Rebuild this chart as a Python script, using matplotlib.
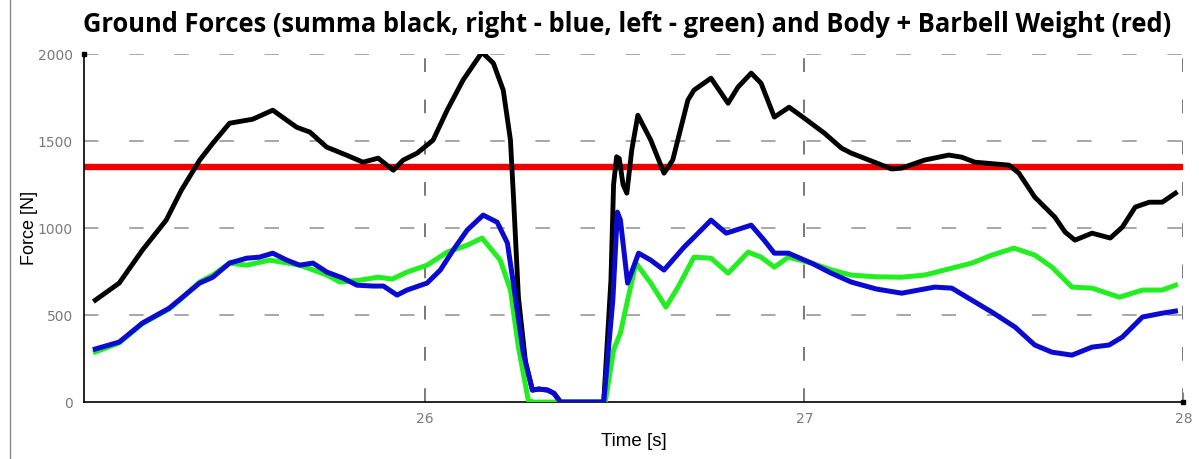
import matplotlib
matplotlib.use("Agg")
import matplotlib.pyplot as plt
from matplotlib.lines import Line2D

# time [s] and force [N] for each series
t_sum = [25.13, 25.193, 25.254, 25.317, 25.357, 25.405, 25.44, 25.484, 25.545, 25.598,
         25.661, 25.696, 25.74, 25.793, 25.836, 25.876, 25.916, 25.942, 25.979, 26.021,
         26.058, 26.1, 26.15, 26.18, 26.206, 26.225, 26.233, 26.246, 26.265, 26.283,
         26.3, 26.323, 26.34, 26.357, 26.471, 26.49, 26.497, 26.505, 26.512, 26.522,
         26.532, 26.545, 26.561, 26.595, 26.63, 26.653, 26.693, 26.709, 26.754, 26.799,
         26.825, 26.86, 26.886, 26.921, 26.96, 27.0, 27.053, 27.098, 27.124, 27.19,
         27.23, 27.257, 27.317, 27.381, 27.415, 27.45, 27.54, 27.566, 27.608, 27.661,
         27.688, 27.714, 27.759, 27.807, 27.839, 27.873, 27.91, 27.944, 27.979]
f_sum = [586, 684, 873, 1046, 1218, 1390, 1488, 1603, 1626, 1678,
         1580, 1552, 1466, 1419, 1379, 1402, 1333, 1391, 1431, 1506,
         1678, 1851, 2011, 1948, 1793, 1506, 1178, 603, 224, 69,
         75, 69, 50, 0, 0, 700, 1250, 1410, 1400, 1250,
         1201, 1450, 1649, 1506, 1316, 1391, 1736, 1793, 1862, 1718,
         1810, 1891, 1833, 1638, 1695, 1632, 1546, 1460, 1431, 1375,
         1340, 1345, 1391, 1420, 1408, 1379, 1362, 1316, 1178, 1063,
         977, 931, 971, 943, 1006, 1121, 1149, 1149, 1201]

t_right = [25.13, 25.193, 25.254, 25.325, 25.36, 25.405, 25.44, 25.484, 25.529, 25.563,
           25.598, 25.635, 25.669, 25.704, 25.741, 25.783, 25.82, 25.862, 25.89, 25.926,
           25.952, 26.005, 26.04, 26.074, 26.111, 26.153, 26.19, 26.217, 26.238, 26.259,
           26.283, 26.3, 26.323, 26.34, 26.357, 26.471, 26.495, 26.507, 26.515, 26.534,
           26.563, 26.595, 26.63, 26.683, 26.72, 26.754, 26.794, 26.86, 26.894, 26.921,
           26.958, 27.019, 27.071, 27.124, 27.19, 27.257, 27.344, 27.389, 27.442, 27.495,
           27.556, 27.608, 27.653, 27.706, 27.759, 27.804, 27.839, 27.892, 27.944, 27.979]
f_right = [305, 345, 454, 540, 603, 684, 718, 799, 827, 833,
           856, 816, 787, 799, 747, 713, 672, 667, 667, 615,
           644, 684, 759, 874, 989, 1075, 1034, 914, 603, 282,
           69, 75, 69, 50, 0, 0, 586, 1092, 1046, 684,
           856, 816, 759, 891, 971, 1046, 971, 1017, 931, 856,
           856, 799, 741, 690, 650, 626, 661, 655, 586, 517,
           431, 328, 287, 270, 316, 328, 374, 489, 511, 523]

t_left = [25.13, 25.193, 25.254, 25.325, 25.36, 25.405, 25.44, 25.484, 25.529, 25.59,
          25.635, 25.669, 25.704, 25.741, 25.775, 25.828, 25.876, 25.913, 25.952, 26.005,
          26.058, 26.111, 26.15, 26.198, 26.225, 26.246, 26.272, 26.285, 26.475, 26.497,
          26.515, 26.534, 26.556, 26.595, 26.635, 26.667, 26.709, 26.754, 26.799, 26.852,
          26.886, 26.921, 26.958, 27.019, 27.071, 27.124, 27.19, 27.257, 27.317, 27.442,
          27.495, 27.553, 27.608, 27.653, 27.706, 27.759, 27.831, 27.892, 27.944, 27.979]
f_left = [288, 340, 450, 535, 600, 690, 730, 799, 787, 816,
          800, 787, 760, 730, 690, 701, 718, 707, 747, 787,
          862, 902, 943, 816, 644, 316, 11, 0, 0, 299,
          397, 586, 799, 684, 546, 661, 833, 827, 741, 862,
          833, 776, 833, 799, 760, 730, 720, 718, 730, 799,
          845, 885, 845, 776, 661, 655, 603, 644, 644, 672]

body_weight = 1352
y_ticks = [0, 500, 1000, 1500, 2000]
x_ticks = [26, 27, 28]

fig = plt.figure(figsize=(11.99, 4.59), dpi=100)
ax = fig.add_axes([0.070, 0.124, 0.917, 0.758])

ax.set_xlim(25.1, 28)
ax.set_ylim(0, 2000)

# grid
for y in y_ticks[1:]:
    ax.plot([25.1, 28], [y, y], color="#a0a0a0", lw=1.3, dashes=(8, 17), zorder=1)
for x in x_ticks:
    ax.plot([x, x], [0, 2000], color="#555555", lw=1.1, dashes=(9, 18), zorder=1)

ax.axhline(body_weight, color="#ee0000", lw=4.6, zorder=2)
ax.plot(t_sum, f_sum, color="black", lw=3.5, solid_joinstyle="round", zorder=3)
ax.plot(t_left, f_left, color="#22ee22", lw=3.6, solid_joinstyle="round", zorder=4)
ax.plot(t_right, f_right, color="#0a0ad0", lw=3.6, solid_joinstyle="round", zorder=5)

for side in ["top", "right"]:
    ax.spines[side].set_visible(False)
for side in ["left", "bottom"]:
    ax.spines[side].set_linewidth(1.2)
ax.plot([25.1], [2000], marker="s", ms=3.5, color="black", clip_on=False, zorder=6)
ax.plot([28], [0], marker="s", ms=3.5, color="black", clip_on=False, zorder=6)

ax.set_xticks(x_ticks)
ax.set_xticklabels([str(v) for v in x_ticks])
ax.set_yticks(y_ticks)
ax.set_yticklabels([str(v) for v in y_ticks])
ax.tick_params(axis="y", length=0, pad=8, labelsize=10, labelcolor="#7a7a7a")
ax.tick_params(axis="x", direction="in", length=7, color="#888888", pad=7,
               labelsize=10, labelcolor="#7a7a7a")

ax.set_xlabel("Time [s]", fontsize=13.5, family="Liberation Sans", labelpad=5)
ax.set_ylabel("Force [N]", fontsize=13, family="Liberation Sans", labelpad=0)

fig.text(0.523, 0.947, "Ground Forces (summa black, right - blue, left - green) and Body + Barbell Weight (red)",
         ha="center", va="center", fontsize=18.4, fontweight="bold", family="Open Sans")

fig.add_artist(Line2D([0.0085, 0.0085], [0, 1], color="#888888", lw=1))

fig.savefig("out.png", dpi=100)
